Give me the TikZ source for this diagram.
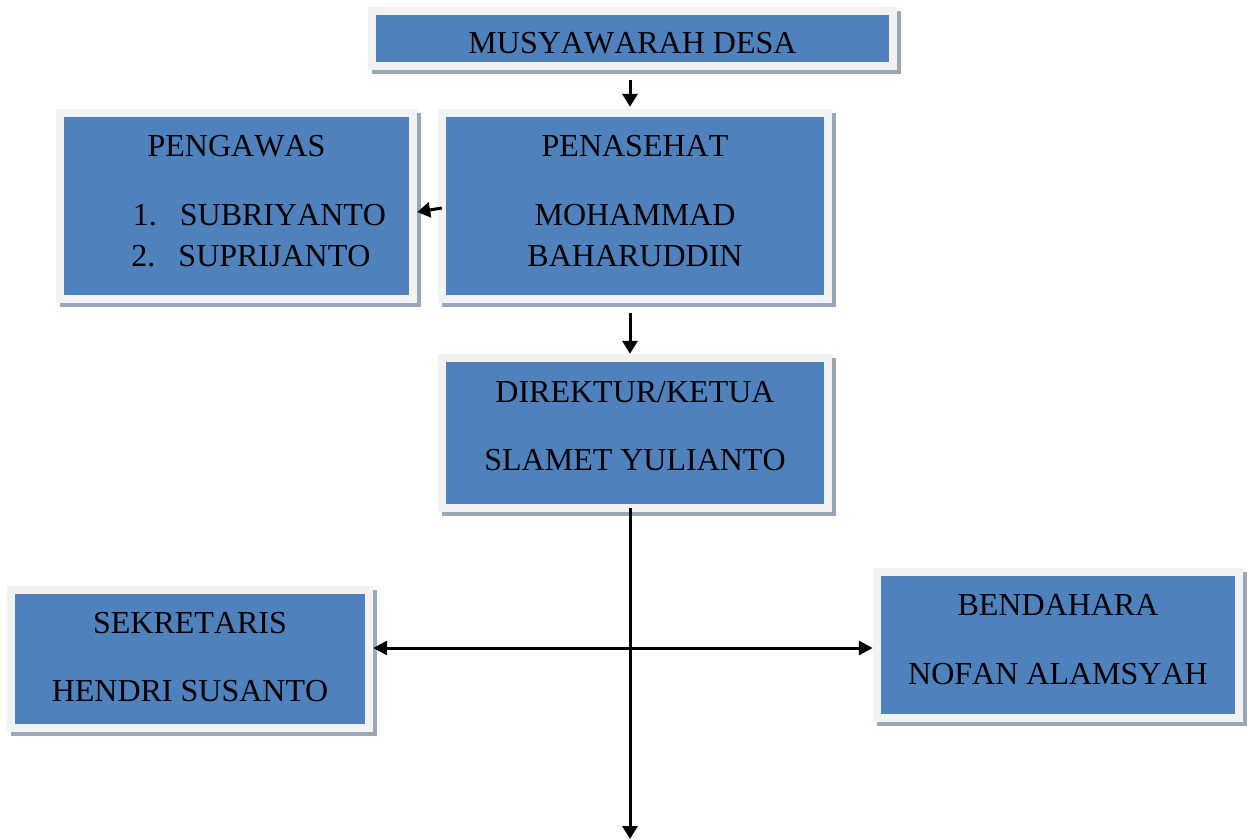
\documentclass[tikz,border=0pt]{standalone}
\usepackage{fontspec}
\setmainfont{Liberation Serif}[Kerning=Off]
\usetikzlibrary{arrows.meta, shadows}

\definecolor{boxblue}{RGB}{79,129,189}
\definecolor{framegray}{RGB}{242,242,242}
\definecolor{shadowgray}{RGB}{155,166,183}
\newcommand{\orgfont}{\fontsize{32}{41}\selectfont}
\newcommand{\orgtext}[1]{\begin{tabular}[t]{@{}c@{}}#1\end{tabular}}

\begin{document}
\begin{tikzpicture}[
  x=1pt, y=-1pt,
  orgbox/.style={rectangle, inner sep=0pt, fill=framegray, font=\orgfont,
    drop shadow={shadow xshift=4pt, shadow yshift=-4pt, fill=shadowgray, opacity=1},
    path picture={\fill[boxblue] ([shift={(8pt,8pt)}]path picture bounding box.south west)
      rectangle ([shift={(-8pt,-8pt)}]path picture bounding box.north east);}},
  arr/.style={line width=3pt, -{Triangle[length=13pt, width=15pt]}},
  biarr/.style={line width=3pt, {Triangle[length=14pt, width=14pt]}-{Triangle[length=14pt, width=14pt]}}
]
\useasboundingbox (0,0) rectangle (1248,839);

% boxes
\node[orgbox, minimum width=529pt, minimum height=63pt, text height=30pt, text depth=0pt]
  (mus) at (632.5,38.5) {MUSYAWARAH DESA};
\node[orgbox, minimum width=394pt, minimum height=194pt, text height=0pt, text depth=100pt]
  (pen) at (635,206) {\orgtext{PENASEHAT\\[28pt] MOHAMMAD\\ BAHARUDDIN}};
\node[orgbox, minimum width=361pt, minimum height=194pt, text height=0pt, text depth=100pt]
  (peng) at (236.5,206) {\orgtext{PENGAWAS\\[28pt]
    \hspace*{46pt}1.\hspace{23pt}SUBRIYANTO\\ \hspace*{29pt}2.\hspace{23pt}SUPRIJANTO}};
\node[orgbox, minimum width=394pt, minimum height=158pt, text height=0pt, text depth=62pt]
  (dir) at (635,433) {\orgtext{DIREKTUR/KETUA\\[27pt] SLAMET YULIANTO}};
\node[orgbox, minimum width=366pt, minimum height=146pt, text height=0pt, text depth=52pt]
  (sek) at (190,659) {\orgtext{SEKRETARIS\\[27pt] HENDRI SUSANTO}};
\node[orgbox, minimum width=370pt, minimum height=154pt, text height=0pt, text depth=60pt]
  (ben) at (1058,645) {\orgtext{BENDAHARA\\[28pt] NOFAN ALAMSYAH}};

\coordinate (spine) at (630,839);
\coordinate (hub) at (630,648);

% connectors
\draw[arr, shorten <=10pt, shorten >=2pt] (mus.south -| spine) -- (pen.north -| spine);
\draw[arr] ([shift={(4pt,-2pt)}]pen.west) -- ([yshift=-6pt]peng.east);
\draw[arr, shorten <=10pt] (pen.south -| spine) -- (dir.north -| spine);
\draw[arr, shorten <=-4pt] (dir.south -| spine) -- (spine);
\draw[biarr] (sek.east |- hub) -- (ben.west |- hub);
\end{tikzpicture}
\end{document}
